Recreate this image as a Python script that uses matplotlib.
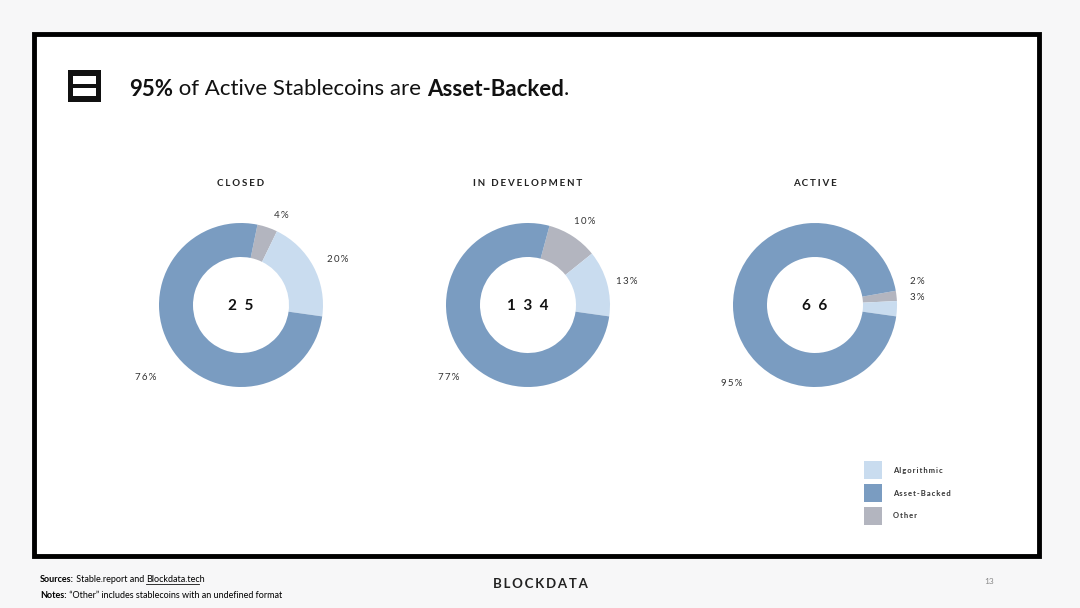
import matplotlib
matplotlib.use("Agg")
import matplotlib.pyplot as plt
from matplotlib.patches import Rectangle

titles = ["CLOSED", "IN DEVELOPMENT", "ACTIVE"]
totals = ["25", "134", "66"]
categories = ["Other", "Algorithmic", "Asset-Backed"]
closed = [4, 20, 76]
in_dev = [10, 13, 77]
active = [2, 3, 95]
series = [closed, in_dev, active]
legend_labels = ["Algorithmic", "Asset-Backed", "Other"]

colors = {"Algorithmic": "#c9dcef", "Asset-Backed": "#7a9cc1", "Other": "#b3b5bf"}
FONT = ["Lato", "DejaVu Sans"]

def spaced(s, sep="\u2009"):
    return sep.join(s)

fig = plt.figure(figsize=(10.8, 6.08), dpi=100)
fig.patch.set_facecolor("#f7f7f8")
ax = fig.add_axes([0, 0, 1, 1])
ax.set_xlim(0, 1080)
ax.set_ylim(0, 608)
ax.set_aspect("equal")
ax.axis("off")

def Y(py):
    return 608 - py

def chain(x, y, parts, **kw):
    prev = None
    for txt, w in parts:
        if prev is None:
            prev = ax.text(x, y, txt, fontweight=w, va="center", **kw)
        else:
            prev = ax.annotate(txt, xy=(1, 0.5), xycoords=prev, va="center", ha="left",
                               fontweight=w, **kw)
    return prev

ax.add_patch(Rectangle((34, Y(556)), 1005, 522, facecolor="white", edgecolor="black", lw=3.5, zorder=0))

# logo
ax.add_patch(Rectangle((68, Y(102)), 33, 32, facecolor="#111", edgecolor="none"))
ax.add_patch(Rectangle((73, Y(84)), 23, 8, facecolor="white", edgecolor="none"))
ax.add_patch(Rectangle((73, Y(96)), 23, 8, facecolor="white", edgecolor="none"))
chain(129, Y(89), [("95%", "bold"), (" of Active Stablecoins are ", "normal"),
                   ("Asset-Backed", "bold"), (".", "normal")],
      fontsize=16, family=FONT, color="#111")

centers = [241, 528, 815]
label_pos = [
    [(281, 215), (338, 260), (146, 378)],
    [(585, 222), (627, 281), (449, 378)],
    [(917, 281), (917, 298), (732, 384)],
]
for i, vals in enumerate(series):
    cx = centers[i]
    start = -8 + 3.6 * (vals[0] + vals[1])
    ax.pie(vals, colors=[colors[c] for c in categories], center=(cx, Y(305)), radius=82,
           startangle=start, counterclock=False, wedgeprops=dict(width=34, edgecolor="none"),
           frame=True)
    ax.text(cx, Y(183), spaced(titles[i], "\u2009\u200a"), ha="center", va="center", fontsize=7,
            fontweight="bold", family=FONT, color="#222")
    ax.text(cx, Y(306), spaced(totals[i], "  "), ha="center", va="center",
            fontsize=11, fontweight="bold", family=FONT, color="#111")
    for (lx, ly), v in zip(label_pos[i], vals):
        ax.text(lx, Y(ly), spaced(f"{v}%"), ha="center", va="center", fontsize=7,
                family=FONT, color="#333")

ax.set_xlim(0, 1080)
ax.set_ylim(0, 608)
ax.axis("off")

for k, lab in enumerate(legend_labels):
    y = 470 + k * 23
    ax.add_patch(Rectangle((864, Y(y + 9)), 18, 18, facecolor=colors[lab], edgecolor="none"))
    ax.text(893, Y(y), spaced(lab), fontsize=5.5, fontweight="bold", family=FONT, va="center", color="#333")

chain(40, Y(579), [("Sources:", "bold"), (" Stable.report and ", "normal"), ("Blockdata.tech", "normal")],
      fontsize=6.5, family=FONT)
ax.plot([146, 199], [Y(584), Y(584)], color="#111", lw=0.6)
chain(40, Y(595), [("Notes:", "bold"), (" \u201cOther\u201d includes stablecoins with an undefined format", "normal")],
      fontsize=6.5, family=FONT)
ax.text(540, Y(584), spaced("BLOCKDATA", "\u200a\u200a"), fontsize=9.5, fontweight="bold", family=FONT,
        ha="center", va="center", color="#222")
ax.text(989, Y(581), "13", fontsize=6, family=FONT, ha="center", va="center", color="#888")

fig.savefig("out.png", dpi=100, facecolor=fig.get_facecolor())
